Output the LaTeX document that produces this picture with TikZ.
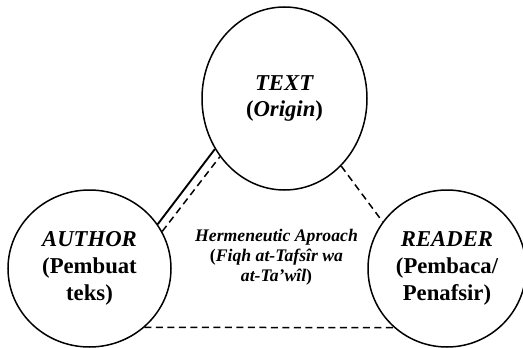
\documentclass[tikz,border=0pt]{standalone}
\usepackage{fontspec}
\setmainfont{Liberation Serif}
\usetikzlibrary{shapes.geometric}
\begin{document}
\begin{tikzpicture}[x=1pt,y=-1pt,
    role/.style={ellipse, draw=black, line width=1.5pt, inner sep=0pt, align=center,
      font=\fontsize{22.7}{26.8}\selectfont\bfseries},
    solidlink/.style={draw=black, line width=1.9pt},
    dashlink/.style={draw=black, line width=1.5pt, dash pattern=on 7pt off 4.5pt}]
\useasboundingbox (0,0) rectangle (523,348);
%% The three corners of the triangle. The top one is a bit taller than it is wide.
    \node[role, minimum width=165pt, minimum height=183pt] (text) at (284.5,98.5) {\textit{TEXT}\\(\textit{Origin})};
    \node[role, minimum width=163pt, minimum height=157pt] (author) at (89.5,268.5) {\textit{AUTHOR}\\(Pembuat\\teks)};
    \node[role, minimum width=158pt, minimum height=157pt] (reader) at (447,268.5) {\textit{READER}\\(Pembaca/\\Penafsir)};
%% The approach sits in the middle of the triangle
    \node[align=center, font=\fontsize{17.7}{20}\selectfont\bfseries\itshape] (approach) at (276.5,257.5)
      {Hermeneutic Aproach\\\textup{(}Fiqh at-Tafsîr wa\\at-Ta’wîl\textup{)}};
%% Author and text are linked twice, the other sides only by a dashed line
    \draw[solidlink] (author.33.6) -- (text.216);
    \draw[dashlink] (author.27.6) -- (text.222);
    \draw[dashlink] (text.-50.5) -- (reader.144);
    \draw[dashlink] (author.-47.5) -- (reader.228.5);
\end{tikzpicture}
\end{document}
